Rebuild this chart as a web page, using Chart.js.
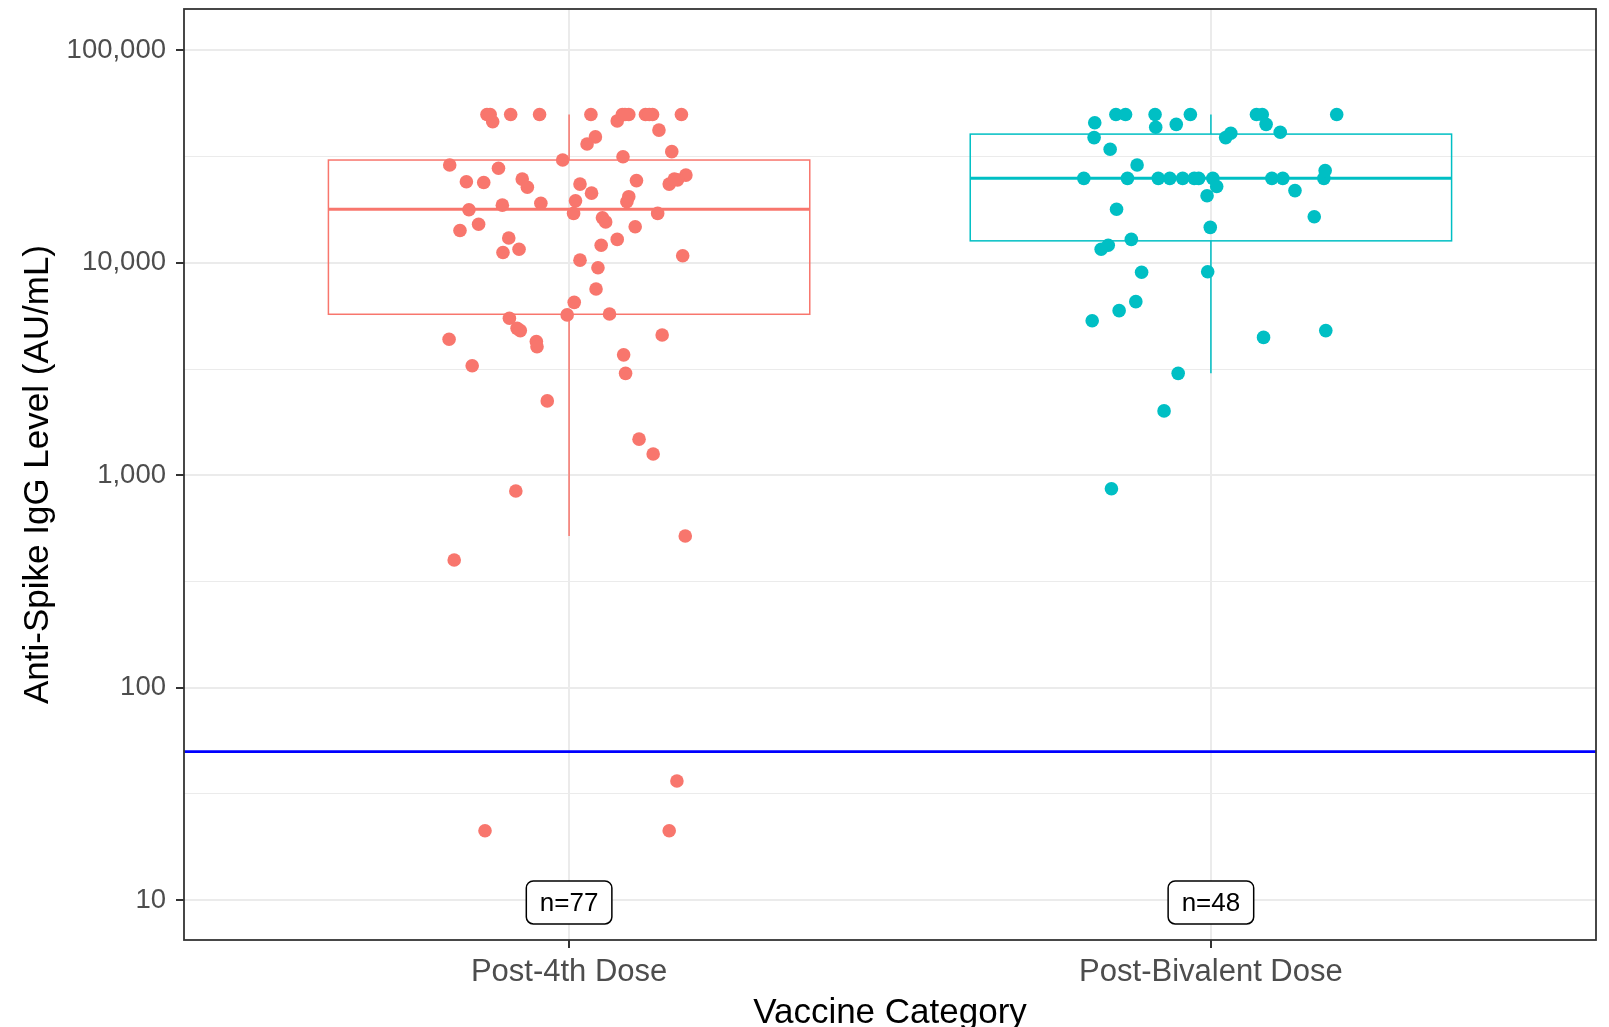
<!DOCTYPE html>
<html>
<head>
<meta charset="utf-8">
<title>Anti-Spike IgG by Vaccine Category</title>
<script src="https://cdn.jsdelivr.net/npm/chart.js@4.4.1/dist/chart.umd.min.js"></script>
<style>
    html, body { margin: 0; padding: 0; background: #ffffff; }
    #wrap { width: 1609px; height: 1027px; position: relative; }
</style>
</head>
<body>
<div id="wrap"><canvas id="igChart"></canvas></div>
<script>
// categories and sample sizes
const categories = ['Post-4th Dose', 'Post-Bivalent Dose'];
const sampleSizes = [77, 48];

// jittered points: horizontal offset from the category centre, and IgG level
const post4thJitter = [
    -0.128, -0.119, -0.091, -0.046, 0.034, 0.075, 0.083, 0.093, 0.119, 0.130, 0.175,
    0.140, 0.041, 0.028, 0.160, 0.084, -0.010, -0.186, -0.110, -0.160, -0.133, -0.073,
    -0.065, 0.182, 0.156, 0.169, 0.105, 0.017, 0.035, 0.093, 0.090, -0.104, -0.044,
    -0.156, 0.010, 0.007, 0.138, 0.052, 0.057, -0.141, -0.170, 0.103, -0.094, -0.103,
    -0.078, 0.075, 0.050, 0.017, 0.177, 0.045, 0.042, 0.008, -0.003, 0.063, -0.093,
    -0.081, -0.076, 0.145, -0.187, -0.051, -0.050, 0.085, -0.151, 0.088, -0.034, 0.109,
    0.131, -0.083, 0.181, -0.179, -0.131, 0.168, 0.156, 0.087, 0.125, -0.123, 0.164
];
const post4thValues = [
    50000, 46200, 50000, 50000, 50000, 46600, 50000, 50000, 50000, 50000, 50000,
    42200, 39200, 36300, 33400, 31600, 30500, 28900, 27900, 24100, 23900, 24800,
    22700, 25900, 23500, 24600, 24400, 23500, 21300, 20500, 19400, 18700, 19100,
    17800, 19600, 17100, 17100, 16300, 15600, 15200, 14200, 14800, 13100, 11200,
    11600, 12900, 12100, 10300, 10800, 9490, 7540, 6520, 5690, 5750, 5490,
    4920, 4800, 4580, 4370, 4260, 4030, 3690, 3280, 3020, 2240, 1480,
    1260, 844, 518, 399, 21.2, 36.4, 21.2, 50000, 50000, 50000, 24800
];
const bivalentJitter = [
    -0.181, -0.148, -0.133, -0.087, -0.086, -0.054, -0.032, 0.071, 0.080, 0.086, 0.196,
    -0.182, 0.108, -0.157, 0.031, 0.023, -0.115,
    -0.198, -0.130, -0.082, -0.064, -0.044, -0.026, -0.019, 0.003, 0.095, 0.112, 0.176,
    0.178, 0.009, -0.006, 0.131, -0.147, 0.161, -0.001, -0.124, -0.160, -0.171,
    -0.108, -0.005, -0.117, -0.143, -0.185, 0.082, 0.179, -0.051, -0.073, -0.155
];
const bivalentValues = [
    45700, 50000, 50000, 50000, 43500, 44900, 50000, 50000, 50000, 44900, 50000,
    38900, 41200, 34300, 40800, 38900, 28900,
    25000, 25000, 25000, 25000, 25000, 25000, 25000, 25000, 25000, 25000, 25000,
    27200, 22900, 20700, 21900, 17900, 16500, 14700, 12900, 12100, 11600,
    9030, 9090, 6570, 5960, 5340, 4460, 4800, 3020, 2010, 865
];

// box plot summaries (one entry per category)
const boxQ1 = [5730, 12700];
const boxMedian = [17900, 25000];
const boxQ3 = [30500, 40400];
const whiskerLow = [518, 3020];
const whiskerHigh = [50000, 50000];

// reference line and y tick labels
const thresholdValue = 50;
const majorTicks = [10, 100, 1000, 10000, 100000];
const minorTicks = [31.62, 316.2, 3162, 31623];
const nLabelY = 9.75;

const groupColors = ['#F8766D', '#00BFC4'];
const boxHalfWidth = 0.375;

Chart.defaults.font.family = "'Liberation Sans', Arial, sans-serif";

function toPoints(jitter, values, centre) {
    return values.map((v, i) => ({ x: centre + jitter[i], y: v }));
}

function isMajor(value) {
    return majorTicks.includes(value);
}

const boxPlugin = {
    id: 'boxes',
    beforeDatasetsDraw(chart) {
        const { ctx, scales: { x, y } } = chart;
        ctx.save();
        categories.forEach((cat, i) => {
            const c = i + 1;
            const left = x.getPixelForValue(c - boxHalfWidth);
            const right = x.getPixelForValue(c + boxHalfWidth);
            const mid = x.getPixelForValue(c);
            const top = y.getPixelForValue(boxQ3[i]);
            const bottom = y.getPixelForValue(boxQ1[i]);
            ctx.strokeStyle = groupColors[i];
            ctx.lineWidth = 1.5;
            ctx.strokeRect(left, top, right - left, bottom - top);

            // whiskers
            ctx.beginPath();
            ctx.moveTo(mid, top);
            ctx.lineTo(mid, y.getPixelForValue(whiskerHigh[i]));
            ctx.moveTo(mid, bottom);
            ctx.lineTo(mid, y.getPixelForValue(whiskerLow[i]));
            ctx.stroke();

            // median
            const med = y.getPixelForValue(boxMedian[i]);
            ctx.lineWidth = 3;
            ctx.beginPath();
            ctx.moveTo(left, med);
            ctx.lineTo(right, med);
            ctx.stroke();
        });
        ctx.restore();
    },
    afterDatasetsDraw(chart) {
        const { ctx, chartArea, scales: { x, y } } = chart;
        ctx.save();
        // threshold line
        const ty = y.getPixelForValue(thresholdValue);
        ctx.strokeStyle = '#0000FF';
        ctx.lineWidth = 2.8;
        ctx.beginPath();
        ctx.moveTo(chartArea.left, ty);
        ctx.lineTo(chartArea.right, ty);
        ctx.stroke();

        // sample size labels
        ctx.font = "26px 'Liberation Sans', Arial, sans-serif";
        ctx.textAlign = 'center';
        ctx.textBaseline = 'middle';
        sampleSizes.forEach((n, i) => {
            const text = 'n=' + n;
            const cx = x.getPixelForValue(i + 1);
            const cy = y.getPixelForValue(nLabelY);
            const w = ctx.measureText(text).width + 27;
            const h = 43;
            ctx.beginPath();
            ctx.roundRect(cx - w / 2, cy - h / 2, w, h, 7);
            ctx.fillStyle = '#ffffff';
            ctx.fill();
            ctx.strokeStyle = '#000000';
            ctx.lineWidth = 1.5;
            ctx.stroke();
            ctx.fillStyle = '#000000';
            ctx.fillText(text, cx, cy + 1);
        });

        // panel border
        ctx.strokeStyle = '#333333';
        ctx.lineWidth = 1.8;
        ctx.strokeRect(chartArea.left, chartArea.top, chartArea.right - chartArea.left, chartArea.bottom - chartArea.top);
        ctx.restore();
    }
};

const ctx = document.getElementById('igChart').getContext('2d');
new Chart(ctx, {
    type: 'scatter',
    data: {
        datasets: [
            {
                label: categories[0],
                data: toPoints(post4thJitter, post4thValues, 1),
                backgroundColor: groupColors[0],
                borderWidth: 0,
                pointRadius: 6.8
            },
            {
                label: categories[1],
                data: toPoints(bivalentJitter, bivalentValues, 2),
                backgroundColor: groupColors[1],
                borderWidth: 0,
                pointRadius: 6.8
            }
        ]
    },
    options: {
        responsive: true,
        maintainAspectRatio: false,
        animation: false,
        layout: { padding: { top: 9, right: 13, bottom: 0, left: 0 } },
        plugins: {
            legend: { display: false },
            tooltip: { enabled: false }
        },
        scales: {
            x: {
                type: 'linear',
                min: 0.4,
                max: 2.6,
                afterBuildTicks: scale => {
                    scale.ticks = categories.map((c, i) => ({ value: i + 1 }));
                },
                afterFit: scale => {
                    scale.height = 87;
                    scale.paddingLeft = 0;
                    scale.paddingRight = 0;
                },
                ticks: {
                    autoSkip: false,
                    maxRotation: 0,
                    padding: 6,
                    color: '#4D4D4D',
                    font: { size: 31 },
                    callback: value => categories[value - 1]
                },
                grid: {
                    color: '#EBEBEB',
                    lineWidth: 2,
                    tickLength: 8,
                    tickColor: '#333333',
                    tickWidth: 2
                },
                border: { display: false },
                title: {
                    display: true,
                    text: 'Vaccine Category',
                    color: '#000000',
                    font: { size: 35, lineHeight: 0.8 },
                    padding: 0
                }
            },
            y: {
                type: 'logarithmic',
                min: 6.49,
                max: 156800,
                afterBuildTicks: scale => {
                    scale.ticks = majorTicks.concat(minorTicks)
                        .sort((a, b) => a - b)
                        .map(v => ({ value: v }));
                },
                afterFit: scale => {
                    scale.width = 184;
                    scale.paddingTop = 0;
                    scale.paddingBottom = 0;
                },
                ticks: {
                    autoSkip: false,
                    padding: 10,
                    color: '#4D4D4D',
                    font: { size: 27.5 },
                    callback: value => isMajor(value) ? value.toLocaleString('en-US') : ''
                },
                grid: {
                    color: '#EBEBEB',
                    lineWidth: c => isMajor(c.tick.value) ? 2 : 1,
                    tickLength: 8,
                    tickColor: c => isMajor(c.tick.value) ? '#333333' : 'rgba(0,0,0,0)',
                    tickWidth: 2
                },
                border: { display: false },
                title: {
                    display: true,
                    text: 'Anti-Spike IgG Level (AU/mL)',
                    color: '#000000',
                    font: { size: 35 },
                    padding: { top: 17, bottom: 0 }
                }
            }
        }
    },
    plugins: [boxPlugin]
});
</script>
</body>
</html>
